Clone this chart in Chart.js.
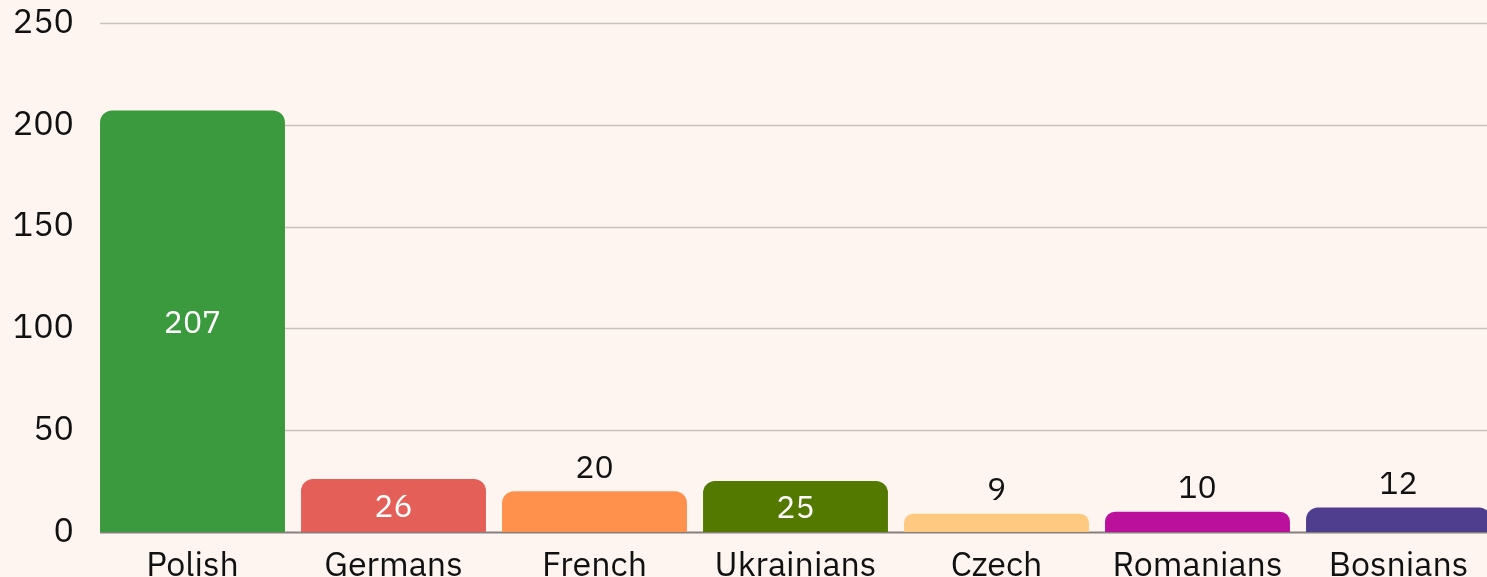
<!DOCTYPE html>
<html>
<head>
<meta charset="utf-8">
<script src="https://cdn.jsdelivr.net/npm/chart.js@4"></script>
<style>
  html, body { margin: 0; padding: 0; background: #FEF5F0; overflow: hidden; }
  #wrap { position: absolute; left: 0; top: 0; width: 1500px; height: 600px; }
</style>
</head>
<body>
<div id="wrap"><canvas id="chart"></canvas></div>
<script>
const groups = ['Polish', 'Germans', 'French', 'Ukrainians', 'Czech', 'Romanians', 'Bosnians'];
const counts = [207, 26, 20, 25, 9, 10, 12];
const barColors = ['#3C9A3E', '#E35F58', '#FF914D', '#537900', '#FFC982', '#BA109C', '#4F3D8E'];
const yTicks = [0, 50, 100, 150, 200, 250];

const FONT = "'IBM Plex Sans', 'Noto Sans', 'Liberation Sans', sans-serif";

// gridlines start at the first bar's left edge, like the original
const gridPlugin = {
  id: 'gridFromBar',
  beforeDatasetsDraw(chart) {
    const { ctx, chartArea, scales } = chart;
    const first = chart.getDatasetMeta(0).data[0];
    const x0 = first.x - first.width / 2;
    ctx.save();
    yTicks.forEach(v => {
      const y = Math.round(scales.y.getPixelForValue(v)) + 0.5;
      ctx.beginPath();
      ctx.strokeStyle = v === 0 ? '#85807d' : '#c9c0bb';
      ctx.lineWidth = v === 0 ? 2 : 1.5;
      ctx.moveTo(x0, y);
      ctx.lineTo(chartArea.right, y);
      ctx.stroke();
    });
    ctx.restore();
  }
};

// value labels: inside the bar when it is tall enough, above otherwise
const labelPlugin = {
  id: 'barValues',
  afterDatasetsDraw(chart) {
    const { ctx } = chart;
    const meta = chart.getDatasetMeta(0);
    ctx.save();
    ctx.font = '32px ' + FONT;
    ctx.textAlign = 'center';
    ctx.textBaseline = 'middle';
    meta.data.forEach((bar, i) => {
      const v = counts[i];
      if (v >= 22) {
        ctx.fillStyle = '#ffffff';
        ctx.fillText(String(v), bar.x, (bar.y + bar.base) / 2 + 2);
      } else {
        ctx.fillStyle = '#111111';
        ctx.fillText(String(v), bar.x, bar.y - 23);
      }
    });
    ctx.restore();
  }
};

new Chart(document.getElementById('chart'), {
  type: 'bar',
  data: {
    labels: groups,
    datasets: [{
      data: counts,
      backgroundColor: barColors,
      borderRadius: { topLeft: 12, topRight: 12, bottomLeft: 0, bottomRight: 0 },
      borderSkipped: 'bottom',
      barPercentage: 0.92,
      categoryPercentage: 1
    }]
  },
  options: {
    responsive: true,
    maintainAspectRatio: false,
    animation: false,
    layout: { padding: { top: 23, right: 1, left: 0, bottom: 0 } },
    plugins: { legend: { display: false }, tooltip: { enabled: false } },
    scales: {
      x: {
        afterFit(axis) { axis.height = 68; },
        grid: { display: false, drawTicks: false },
        border: { display: false },
        ticks: { color: '#111111', font: { size: 34, family: FONT }, padding: 14 }
      },
      y: {
        min: 0,
        max: 250,
        afterFit(axis) {
          axis.width = 92;
          axis.paddingTop = 0;
          axis.paddingBottom = 0;
        },
        afterBuildTicks(axis) { axis.ticks = yTicks.map(v => ({ value: v })); },
        grid: { display: false, drawTicks: false },
        border: { display: false },
        ticks: { color: '#111111', font: { size: 34, family: FONT }, padding: 18, labelOffset: 0 }
      }
    }
  },
  plugins: [gridPlugin, labelPlugin]
});
</script>
</body>
</html>
